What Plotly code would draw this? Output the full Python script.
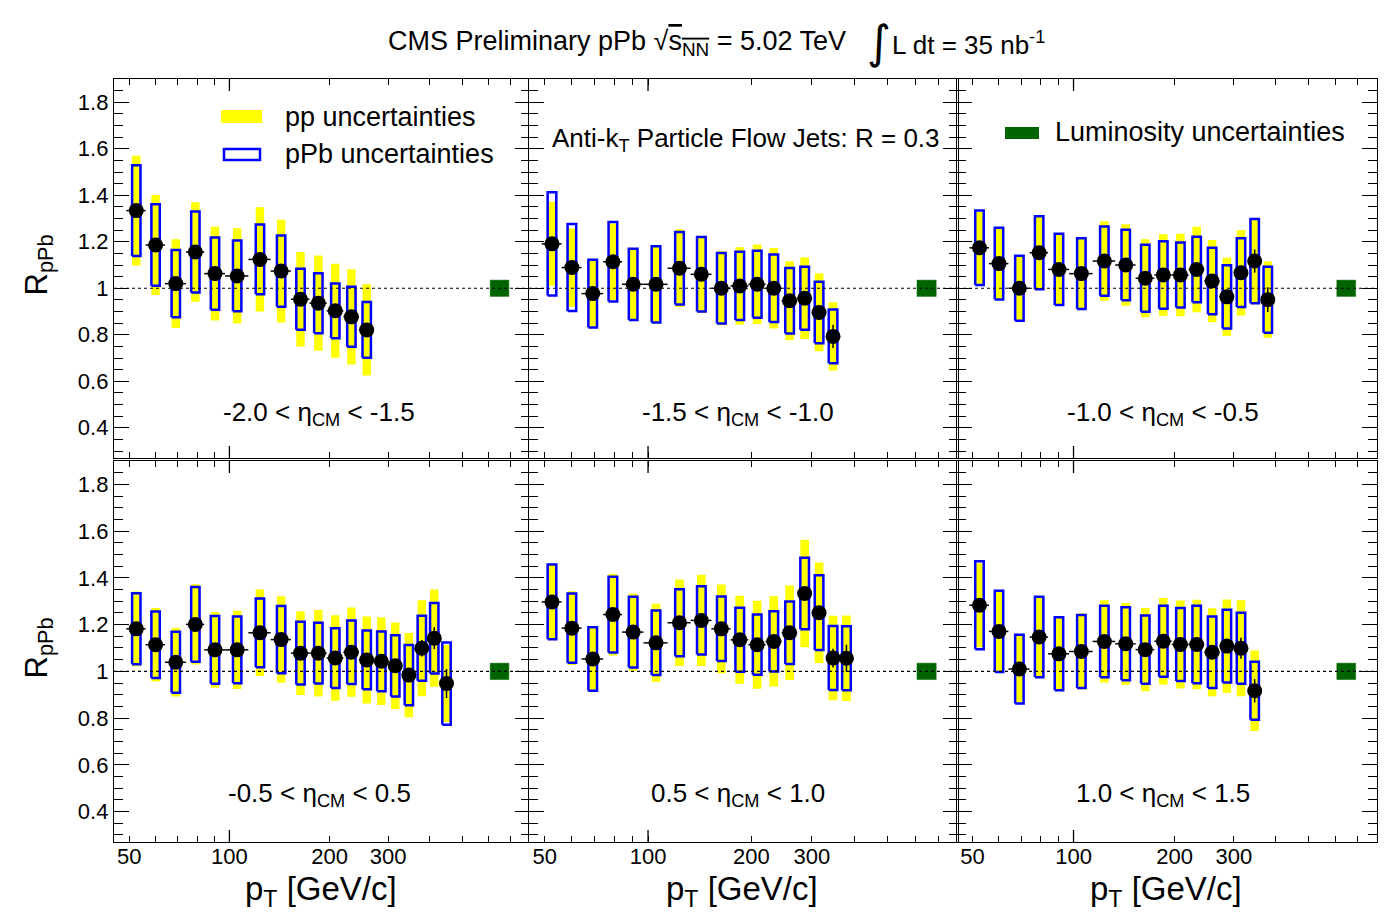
import math
import plotly.graph_objects as go

# ---------------------------------------------------------------------------
# Data: jet R_pPb vs pT in six eta_CM bins (anti-kT PF jets, R = 0.3)
# ---------------------------------------------------------------------------
PT_EDGES = [49, 56, 64, 74, 84, 97, 114, 133, 153, 174, 196, 220, 245, 272,
            300, 330, 362, 395, 430, 468]

ETA_LABELS = [
    "-2.0 < η<sub>CM</sub> < -1.5",
    "-1.5 < η<sub>CM</sub> < -1.0",
    "-1.0 < η<sub>CM</sub> < -0.5",
    "-0.5 < η<sub>CM</sub> < 0.5",
    "0.5 < η<sub>CM</sub> < 1.0",
    "1.0 < η<sub>CM</sub> < 1.5",
]

# -2.0 < eta_CM < -1.5
R_1 = [1.334, 1.186, 1.020, 1.156, 1.063, 1.053, 1.124, 1.074, 0.953, 0.936, 0.903, 0.877, 0.821]
PP_1 = [0.236, 0.215, 0.191, 0.214, 0.202, 0.205, 0.224, 0.221, 0.203, 0.205, 0.202, 0.205, 0.196]
PPB_1 = [0.195, 0.175, 0.145, 0.174, 0.155, 0.152, 0.150, 0.153, 0.131, 0.129, 0.118, 0.129, 0.120]
STAT_1 = [0.008, 0.008, 0.009, 0.009, 0.010, 0.010, 0.011, 0.012, 0.013, 0.015, 0.017, 0.020, 0.024]

# -1.5 < eta_CM < -1.0
R_2 = [1.191, 1.089, 0.977, 1.114, 1.017, 1.017, 1.086, 1.060, 1.000, 1.010, 1.017, 1.000,
       0.946, 0.957, 0.896, 0.793]
PP_2 = [0.180, 0.168, 0.140, 0.165, 0.150, 0.160, 0.168, 0.166, 0.159, 0.166, 0.171, 0.173,
        0.170, 0.175, 0.167, 0.147]
PPB_2 = [0.222, 0.187, 0.146, 0.171, 0.153, 0.164, 0.156, 0.160, 0.152, 0.147, 0.144, 0.145,
         0.141, 0.135, 0.132, 0.116]
STAT_2 = [0.008, 0.008, 0.008, 0.009, 0.009, 0.010, 0.010, 0.011, 0.012, 0.013, 0.015, 0.017,
          0.020, 0.024, 0.030, 0.050]

# -1.0 < eta_CM < -0.5
R_3 = [1.174, 1.106, 1.000, 1.153, 1.081, 1.063, 1.117, 1.100, 1.043, 1.057, 1.057, 1.081,
       1.031, 0.963, 1.067, 1.117, 0.951]
PP_3 = [0.155, 0.150, 0.135, 0.160, 0.150, 0.157, 0.171, 0.175, 0.168, 0.175, 0.177, 0.184,
        0.177, 0.168, 0.184, 0.180, 0.164]
PPB_3 = [0.160, 0.154, 0.140, 0.157, 0.153, 0.152, 0.149, 0.152, 0.144, 0.145, 0.140, 0.141,
         0.143, 0.136, 0.148, 0.181, 0.142]
STAT_3 = [0.008, 0.008, 0.008, 0.009, 0.009, 0.010, 0.010, 0.011, 0.012, 0.012, 0.014, 0.016,
          0.020, 0.024, 0.030, 0.050, 0.053]

# -0.5 < eta_CM < 0.5
R_4 = [1.182, 1.114, 1.039, 1.201, 1.092, 1.092, 1.165, 1.136, 1.078, 1.078, 1.057, 1.082,
       1.049, 1.043, 1.024, 0.984, 1.099, 1.142, 0.948]
PP_4 = [0.160, 0.157, 0.147, 0.172, 0.162, 0.167, 0.185, 0.185, 0.179, 0.185, 0.183, 0.191,
        0.186, 0.187, 0.185, 0.180, 0.205, 0.208, 0.165]
PPB_4 = [0.152, 0.142, 0.130, 0.160, 0.145, 0.143, 0.147, 0.144, 0.134, 0.130, 0.128, 0.136,
         0.126, 0.128, 0.131, 0.129, 0.139, 0.151, 0.176]
STAT_4 = [0.007, 0.007, 0.007, 0.008, 0.008, 0.008, 0.009, 0.009, 0.010, 0.011, 0.012, 0.013,
          0.015, 0.017, 0.020, 0.025, 0.035, 0.047, 0.062]

# 0.5 < eta_CM < 1.0
R_5 = [1.297, 1.185, 1.053, 1.243, 1.168, 1.122, 1.208, 1.218, 1.182, 1.135, 1.114, 1.128,
       1.165, 1.333, 1.251, 1.057, 1.056]
PP_5 = [0.163, 0.158, 0.138, 0.175, 0.165, 0.167, 0.185, 0.195, 0.190, 0.188, 0.188, 0.193,
        0.202, 0.230, 0.215, 0.181, 0.183]
PPB_5 = [0.160, 0.148, 0.136, 0.162, 0.151, 0.138, 0.143, 0.146, 0.138, 0.137, 0.129, 0.129,
         0.134, 0.153, 0.160, 0.137, 0.137]
STAT_5 = [0.008, 0.008, 0.008, 0.009, 0.009, 0.010, 0.010, 0.011, 0.012, 0.013, 0.014, 0.016,
          0.019, 0.023, 0.028, 0.040, 0.058]

# 1.0 < eta_CM < 1.5
R_6 = [1.283, 1.171, 1.010, 1.147, 1.075, 1.085, 1.128, 1.118, 1.093, 1.129, 1.115, 1.115,
       1.082, 1.108, 1.099, 0.917]
PP_6 = [0.180, 0.170, 0.142, 0.170, 0.158, 0.163, 0.176, 0.175, 0.178, 0.185, 0.188, 0.191,
        0.188, 0.200, 0.205, 0.172]
PPB_6 = [0.188, 0.174, 0.147, 0.172, 0.156, 0.156, 0.153, 0.156, 0.146, 0.152, 0.156, 0.166,
         0.153, 0.156, 0.152, 0.124]
STAT_6 = [0.008, 0.008, 0.008, 0.009, 0.009, 0.010, 0.010, 0.011, 0.012, 0.013, 0.015, 0.017,
          0.020, 0.026, 0.045, 0.050]

# Luminosity normalisation uncertainty (relative), drawn at a fixed pT
LUMI_UNC = 0.035
LUMI_PT = 648

PANELS = [
    (ETA_LABELS[0], R_1, PP_1, PPB_1, STAT_1),
    (ETA_LABELS[1], R_2, PP_2, PPB_2, STAT_2),
    (ETA_LABELS[2], R_3, PP_3, PPB_3, STAT_3),
    (ETA_LABELS[3], R_4, PP_4, PPB_4, STAT_4),
    (ETA_LABELS[4], R_5, PP_5, PPB_5, STAT_5),
    (ETA_LABELS[5], R_6, PP_6, PPB_6, STAT_6),
]

X_TICKS = [50, 100, 200, 300]
X_TICKTEXT = ["50", "100", "200", "300"]
X_MINOR = [60, 70, 80, 90, 400, 500, 600, 700]
Y_TICKS = [0.4, 0.6, 0.8, 1.0, 1.2, 1.4, 1.6, 1.8]
Y_TICKTEXT = ["0.4", "0.6", "0.8", "1", "1.2", "1.4", "1.6", "1.8"]

# ---------------------------------------------------------------------------
# Style / geometry
# ---------------------------------------------------------------------------
W, H = 1394, 919
FONT = "Liberation Sans, Arial, Helvetica, sans-serif"
COL_PX = [(114, 530), (529, 958), (957, 1377)]
ROW_PX = [(79, 458), (461, 842)]
X_RANGE = [45, 800]
Y_RANGE = [0.27, 1.9]
BOX_HALF_DEC = 0.0126      # half width of the uncertainty boxes, in decades
LUMI_HALF_DEC = 0.028
YELLOW = "#ffff00"
BLUE = "#0000ff"
GREEN = "#006400"


def px_x(px):
    return px / W


def px_y(py):
    return 1 - py / H


def rects(xs, ys, lo_err, hi_err, half_dec):
    """Closed rectangle paths (None-separated) around each (x, y)."""
    px, py = [], []
    for x, y, el, eh in zip(xs, ys, lo_err, hi_err):
        x0 = x * 10 ** (-half_dec)
        x1 = x * 10 ** half_dec
        px += [x0, x1, x1, x0, x0, None]
        py += [y - el, y - el, y + eh, y + eh, y - el, None]
    return px, py


centers = [(a + b) / 2 for a, b in zip(PT_EDGES[:-1], PT_EDGES[1:])]

fig = go.Figure()
layout_axes = {}
annotations = []
shapes = []

for k, (eta, r, pp, ppb, stat) in enumerate(PANELS):
    row, col = divmod(k, 3)
    n = k + 1
    xa = "x" if n == 1 else f"x{n}"
    ya = "y" if n == 1 else f"y{n}"
    npt = len(r)
    xc = centers[:npt]
    lo_edge = PT_EDGES[:npt]
    hi_edge = PT_EDGES[1:npt + 1]

    # luminosity box
    lx, ly = rects([LUMI_PT], [1.0], [LUMI_UNC], [LUMI_UNC], LUMI_HALF_DEC)
    fig.add_trace(go.Scatter(x=lx, y=ly, xaxis=xa, yaxis=ya, mode="lines",
                             fill="toself", fillcolor=GREEN,
                             line=dict(color=GREEN, width=0.5),
                             hoverinfo="skip", showlegend=False))

    # pp reference uncertainties (filled yellow)
    yx, yy = rects(xc, r, pp, pp, BOX_HALF_DEC)
    fig.add_trace(go.Scatter(x=yx, y=yy, xaxis=xa, yaxis=ya, mode="lines",
                             fill="toself", fillcolor=YELLOW,
                             line=dict(color=YELLOW, width=0),
                             hoverinfo="skip", showlegend=False))

    # pPb uncertainties (open blue boxes)
    bx, by = rects(xc, r, ppb, ppb, BOX_HALF_DEC)
    fig.add_trace(go.Scatter(x=bx, y=by, xaxis=xa, yaxis=ya, mode="lines",
                             line=dict(color=BLUE, width=2.5),
                             hoverinfo="skip", showlegend=False))

    # data points with bin widths and statistical errors
    fig.add_trace(go.Scatter(
        x=xc, y=r, xaxis=xa, yaxis=ya, mode="markers",
        marker=dict(color="black", size=15, symbol="circle"),
        error_x=dict(type="data", symmetric=False,
                     array=[h - c for h, c in zip(hi_edge, xc)],
                     arrayminus=[c - l for c, l in zip(xc, lo_edge)],
                     color="black", thickness=1.5, width=0),
        error_y=dict(type="data", array=stat, color="black", thickness=1.5, width=0),
        hoverinfo="skip", showlegend=False))

    # unity reference line
    shapes.append(dict(type="line", xref=f"{xa} domain", yref=ya, x0=0, x1=1, y0=1, y1=1,
                       line=dict(color="black", width=1.2, dash="dot"), layer="above"))

    # long decade tick at 100 GeV/c (bottom and top)
    tick_frac = 12 / (ROW_PX[row][1] - ROW_PX[row][0])
    for y0, y1 in [(0, tick_frac), (1 - tick_frac, 1)]:
        shapes.append(dict(type="line", xref=xa, yref=f"{ya} domain", x0=100, x1=100,
                           y0=y0, y1=y1, line=dict(color="black", width=1.3), layer="above"))

    c0, c1 = COL_PX[col]
    r0, r1 = ROW_PX[row]
    xkey = "xaxis" if n == 1 else f"xaxis{n}"
    ykey = "yaxis" if n == 1 else f"yaxis{n}"
    layout_axes[xkey] = dict(
        type="log", range=[math.log10(X_RANGE[0]), math.log10(X_RANGE[1])],
        domain=[px_x(c0), px_x(c1)], anchor=ya,
        showgrid=False, zeroline=False, showline=True, linecolor="black", linewidth=1.3,
        mirror="allticks", ticks="inside", ticklen=6, tickwidth=1.3, tickcolor="black",
        tickmode="array", tickvals=X_TICKS, ticktext=X_TICKTEXT,
        showticklabels=(row == 1), ticklabelstandoff=-6,
        tickfont=dict(family=FONT, size=22, color="black"),
        minor=dict(tickmode="array", tickvals=X_MINOR, ticks="inside", ticklen=6,
                   tickwidth=1.3, tickcolor="black", showgrid=False),
        fixedrange=True)
    layout_axes[ykey] = dict(
        range=Y_RANGE, domain=[px_y(r1), px_y(r0)], anchor=xa,
        showgrid=False, zeroline=False, showline=True, linecolor="black", linewidth=1.3,
        mirror="allticks", ticks="inside", ticklen=15, tickwidth=1.3, tickcolor="black",
        tickmode="array", tickvals=Y_TICKS, ticktext=Y_TICKTEXT,
        showticklabels=(col == 0), tickfont=dict(family=FONT, size=22, color="black"),
        minor=dict(dtick=0.05, tick0=0, ticks="inside", ticklen=9, tickwidth=1.3,
                   tickcolor="black", showgrid=False),
        fixedrange=True)

    # eta bin label
    label_x = [319, 738, 1163][col]
    label_y = [413, 794][row]
    annotations.append(dict(text=eta, x=px_x(label_x), y=px_y(label_y), xref="paper",
                            yref="paper", xanchor="center", yanchor="middle", showarrow=False,
                            font=dict(family=FONT, size=26, color="black")))

# axis titles
for row in range(2):
    r0, r1 = ROW_PX[row]
    annotations.append(dict(text="R<sub>pPb</sub>", x=px_x(38), y=px_y((r0 + r1) / 2 - 3),
                            xref="paper", yref="paper", xanchor="center", yanchor="middle",
                            textangle=-90, showarrow=False,
                            font=dict(family=FONT, size=31, color="black")))
for col in range(3):
    c0, c1 = COL_PX[col]
    annotations.append(dict(text="p<sub>T</sub> [GeV/c]", x=px_x((c0 + c1) / 2 - 1),
                            y=px_y(891), xref="paper", yref="paper", xanchor="center",
                            yanchor="middle", showarrow=False,
                            font=dict(family=FONT, size=33, color="black")))

# header
annotations.append(dict(
    text="CMS Preliminary pPb √<span style='text-decoration:overline'>s<sub>NN</sub></span> = 5.02 TeV",
    x=px_x(848), y=px_y(43), xref="paper", yref="paper", xanchor="right", yanchor="middle",
    showarrow=False, font=dict(family=FONT, size=27, color="black")))
annotations.append(dict(text="∫", x=px_x(879), y=px_y(42), xref="paper", yref="paper",
                        xanchor="center", yanchor="middle", showarrow=False,
                        font=dict(family="DejaVu Sans, sans-serif", size=46, color="black")))
annotations.append(dict(text="L dt = 35 nb<sup>-1</sup>", x=px_x(890), y=px_y(43),
                        xref="paper", yref="paper", xanchor="left", yanchor="middle",
                        showarrow=False, font=dict(family=FONT, size=26, color="black")))

# legend entries
annotations.append(dict(text="pp uncertainties", x=px_x(283), y=px_y(117), xref="paper",
                        yref="paper", xanchor="left", yanchor="middle", showarrow=False,
                        font=dict(family=FONT, size=27, color="black")))
annotations.append(dict(text="pPb uncertainties", x=px_x(283), y=px_y(154), xref="paper",
                        yref="paper", xanchor="left", yanchor="middle", showarrow=False,
                        font=dict(family=FONT, size=27, color="black")))
annotations.append(dict(text="Luminosity uncertainties", x=px_x(1053), y=px_y(132),
                        xref="paper", yref="paper", xanchor="left", yanchor="middle",
                        showarrow=False, font=dict(family=FONT, size=27, color="black")))
annotations.append(dict(text="Anti-k<sub>T</sub> Particle Flow Jets: R = 0.3", x=px_x(550),
                        y=px_y(139), xref="paper", yref="paper", xanchor="left",
                        yanchor="middle", showarrow=False,
                        font=dict(family=FONT, size=26, color="black")))

shapes.append(dict(type="rect", xref="paper", yref="paper", x0=px_x(221), x1=px_x(262),
                   y0=px_y(123), y1=px_y(110), fillcolor=YELLOW, line=dict(width=0)))
shapes.append(dict(type="rect", xref="paper", yref="paper", x0=px_x(224), x1=px_x(260),
                   y0=px_y(160), y1=px_y(149), fillcolor="rgba(0,0,0,0)",
                   line=dict(color=BLUE, width=2.5)))
shapes.append(dict(type="rect", xref="paper", yref="paper", x0=px_x(1005), x1=px_x(1039),
                   y0=px_y(139), y1=px_y(127), fillcolor=GREEN, line=dict(width=0)))

fig.update_layout(
    width=W, height=H, margin=dict(l=0, r=0, t=0, b=0),
    paper_bgcolor="white", plot_bgcolor="white",
    showlegend=False, annotations=annotations, shapes=shapes,
    font=dict(family=FONT, color="black"),
    **layout_axes,
)

fig.write_html("out.html")
